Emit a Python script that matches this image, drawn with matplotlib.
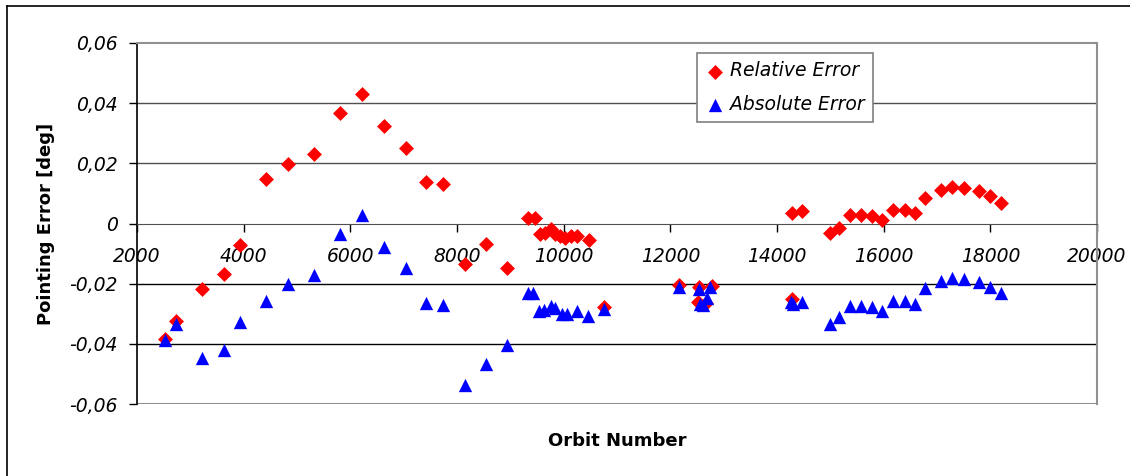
import matplotlib.pyplot as plt
from matplotlib.lines import Line2D
from matplotlib.ticker import FuncFormatter

# data
rel_orbit = [2516, 2723, 3217, 3630, 3925, 4413, 4826, 5320, 5815, 6222, 6629, 7042, 7418, 7743,
             8145, 8539, 8945, 9339, 9455, 9559, 9653, 9760, 9840, 9934, 10028, 10135, 10259, 10484,
             10748, 12156, 12510, 12530, 12660, 12790, 14288, 14288, 14476, 14992, 15161, 15368,
             15568, 15775, 15975, 16182, 16394, 16588, 16770, 17083, 17290, 17497, 17790, 17997, 18197]
rel_err = [-0.0383, -0.0325, -0.0219, -0.0168, -0.0073, 0.0149, 0.0199, 0.0230, 0.0366, 0.0429,
           0.0323, 0.0251, 0.0138, 0.0132, -0.0136, -0.0068, -0.0149, 0.0019, 0.0019, -0.0034,
           -0.0030, -0.0019, -0.0034, -0.0042, -0.0048, -0.0040, -0.0041, -0.0056, -0.0277, -0.0205,
           -0.0260, -0.0210, -0.0265, -0.0207, 0.0035, -0.0251, 0.0040, -0.0032, -0.0014, 0.0029,
           0.0029, 0.0024, 0.0012, 0.0046, 0.0046, 0.0034, 0.0084, 0.0112, 0.0121, 0.0118, 0.0108,
           0.0091, 0.0069]

abs_orbit = [2516, 2723, 3217, 3630, 3925, 4413, 4826, 5320, 5815, 6222, 6629, 7042, 7418, 7743,
             8145, 8539, 8945, 9339, 9433, 9546, 9634, 9760, 9840, 9965, 10060, 10248, 10455, 10748,
             12156, 12532, 12563, 12620, 12689, 12751, 14260, 14300, 14476, 14992, 15161, 15368,
             15568, 15775, 15975, 16182, 16394, 16588, 16770, 17083, 17290, 17497, 17790, 17997, 18197]
abs_err = [-0.0387, -0.0335, -0.0446, -0.0420, -0.0326, -0.0259, -0.0201, -0.0171, -0.0034, 0.0027,
           -0.0077, -0.0149, -0.0264, -0.0270, -0.0537, -0.0468, -0.0403, -0.0232, -0.0232, -0.0290,
           -0.0288, -0.0273, -0.0281, -0.0301, -0.0301, -0.0292, -0.0307, -0.0284, -0.0210, -0.0218,
           -0.0268, -0.0270, -0.0246, -0.0212, -0.0262, -0.0266, -0.0262, -0.0334, -0.0312, -0.0273,
           -0.0273, -0.0279, -0.0290, -0.0259, -0.0259, -0.0268, -0.0216, -0.0190, -0.0181, -0.0184,
           -0.0196, -0.0210, -0.0232]

x_ticks = list(range(2000, 20001, 2000))
y_ticks = [-0.06, -0.04, -0.02, 0, 0.02, 0.04, 0.06]

plt.rcParams['font.family'] = 'DejaVu Sans'

fig = plt.figure(figsize=(11.3, 4.76), dpi=100)
ax = fig.add_axes([137 / 1130, 1 - 404 / 476, 960 / 1130, 361 / 476])

# outer chart frame (left and top edges visible)
fig.add_artist(Line2D([7 / 1130, 7 / 1130], [0, 1 - 6 / 476], color='black', lw=1.2))
fig.add_artist(Line2D([7 / 1130, 1], [1 - 6 / 476, 1 - 6 / 476], color='black', lw=1.2))

for y in [0.02, 0.04]:
    ax.axhline(y, color='#505050', lw=1, zorder=1)
for y in [-0.02, -0.04]:
    ax.axhline(y, color='black', lw=1, zorder=1)
ax.axhline(-0.06, color='#909090', lw=1.5, zorder=1)

ax.scatter(rel_orbit, rel_err, marker='D', s=7.6 ** 2, color='#ff0000', linewidths=0,
           zorder=3, label='Relative Error')
ax.scatter(abs_orbit, abs_err, marker='^', s=9.6 ** 2, color='#0000ff', linewidths=0,
           zorder=4, label='Absolute Error')

ax.set_xlim(2000, 20000)
ax.set_ylim(-0.06, 0.06)
ax.set_xticks(x_ticks)
ax.set_yticks(y_ticks)

ax.spines['bottom'].set_position(('data', 0))
ax.spines['bottom'].set_color('#505050')
ax.spines['top'].set_color('#909090')
ax.spines['right'].set_color('#909090')
ax.spines['top'].set_linewidth(1.5)
ax.spines['right'].set_linewidth(1.5)
ax.spines['left'].set_color('black')
ax.spines['left'].set_linewidth(1.2)

ax.yaxis.set_major_formatter(FuncFormatter(lambda v, p: '0' if abs(v) < 1e-9 else f'{v:.2f}'.replace('.', ',')))
ax.tick_params(axis='y', direction='out', length=6, width=1, pad=8, labelsize=13.5)
ax.tick_params(axis='x', direction='out', length=6, width=1, pad=11, labelsize=13.5)
for lab in ax.get_xticklabels() + ax.get_yticklabels():
    lab.set_fontstyle('italic')

ax.set_xlabel('Orbit Number', fontsize=13, fontweight='bold')
ax.set_ylabel('Pointing Error [deg]', fontsize=13, fontweight='bold')
ax.xaxis.set_label_coords(480 / 960, -28 / 361, transform=ax.transAxes)
ax.yaxis.set_label_coords(-82 / 960, 0.5)

leg = ax.legend(loc='upper left', bbox_to_anchor=((697 - 137) / 960, (404 - 53) / 361),
                frameon=True, fancybox=False, framealpha=1, edgecolor='#808080',
                prop={'style': 'italic', 'size': 13.5}, handletextpad=0.3,
                handlelength=1.0, borderpad=0.45, labelspacing=0.75, borderaxespad=0,
                scatterpoints=1)
leg.get_frame().set_linewidth(1.2)

fig.savefig('out.png', dpi=100)
